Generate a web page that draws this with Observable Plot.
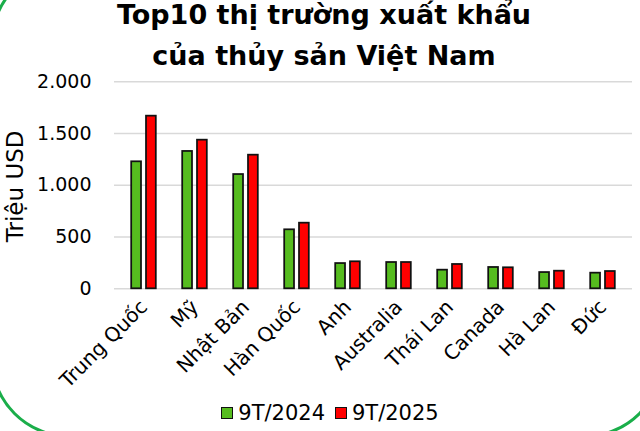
<!DOCTYPE html>
<html>
<head>
<meta charset="utf-8">
<script src="https://cdn.jsdelivr.net/npm/d3@7"></script>
<script src="https://cdn.jsdelivr.net/npm/@observablehq/plot@0.6"></script>
<style>
  html, body { margin: 0; padding: 0; background: #fff; }
  #wrap { position: relative; width: 640px; height: 431px; overflow: hidden; background: #fff; }
  #frame { position: absolute; left: -10px; top: -36px; width: 674px; height: 474px; box-sizing: border-box;
           border: 3px solid #1aae4a; border-radius: 80px; }
  #title { position: absolute; left: 0; top: -6px; width: 648px; text-align: center;
           font-family: "DejaVu Sans", sans-serif; font-weight: bold; font-size: 27px; line-height: 41px; color: #000; }
  #chart { position: absolute; left: 0; top: 70px; }
  #legend { position: absolute; left: 0; top: 400px; width: 660px; height: 26px; display: flex; justify-content: center;
            align-items: center; gap: 10px; font-family: "DejaVu Sans", sans-serif; font-size: 21px; color: #000; }
  .item { display: flex; align-items: center; gap: 5px; }
  .sw { width: 10px; height: 10px; border: 1.5px solid #111; }
</style>
</head>
<body>
<div id="wrap">
  <div id="frame"></div>
  <div id="title">Top10 thị trường xuất khẩu<br>của thủy sản Việt Nam</div>
  <div id="chart"></div>
  <div id="legend"></div>
</div>
<script>
const countries = ["Trung Quốc", "Mỹ", "Nhật Bản", "Hàn Quốc", "Anh", "Australia", "Thái Lan", "Canada", "Hà Lan", "Đức"];
const values2024 = [1227, 1327, 1104, 570, 244, 254, 180, 206, 157, 151];
const values2025 = [1668, 1436, 1291, 634, 261, 254, 235, 203, 170, 167];
const seriesNames = ["9T/2024", "9T/2025"];
const seriesColors = ["#56bc1f", "#ff0000"];
const yTicks = [0, 500, 1000, 1500, 2000];
const yLabel = "Triệu USD";

const d2024 = countries.map((c, i) => ({country: c, value: values2024[i]}));
const d2025 = countries.map((c, i) => ({country: c, value: values2025[i]}));

const fmt = d => d3.format(",")(d).replace(/,/g, ".");
const font = "DejaVu Sans, sans-serif";

const chart = Plot.plot({
  width: 640,
  height: 330,
  marginTop: 11.3,
  marginBottom: 111.7,
  marginLeft: 114,
  marginRight: 8,
  style: {fontFamily: font, background: "transparent", overflow: "visible"},
  x: {domain: countries, padding: 0},
  y: {domain: [0, 2000]},
  marks: [
    Plot.gridY(yTicks, {stroke: "#d9d9d9", strokeOpacity: 1, strokeWidth: 1.6}),
    Plot.barY(d2024, {x: "country", y: "value", fill: seriesColors[0], stroke: "#111", strokeWidth: 1.75,
      insetLeft: 13.2, insetRight: 28}),
    Plot.barY(d2025, {x: "country", y: "value", fill: seriesColors[1], stroke: "#111", strokeWidth: 1.75,
      insetLeft: 28, insetRight: 13.2}),
    Plot.axisX({tickSize: 0, tickPadding: 15, tickRotate: -45, label: null, fontSize: 20, fill: "#000"}),
    Plot.axisY({ticks: yTicks, tickFormat: fmt, tickSize: 0, tickPadding: 23, fontSize: 19, fill: "#000", label: null}),
    Plot.text([yLabel], {frameAnchor: "left", textAnchor: "middle", lineAnchor: "middle", rotate: -90,
      dx: -99, dy: 1, fontSize: 23, fill: "#000"})
  ]
});
document.getElementById("chart").appendChild(chart);

const legend = document.getElementById("legend");
seriesNames.forEach((name, i) => {
  const item = document.createElement("div");
  item.className = "item";
  const sw = document.createElement("div");
  sw.className = "sw";
  sw.style.background = seriesColors[i];
  const t = document.createElement("span");
  t.textContent = name;
  item.appendChild(sw);
  item.appendChild(t);
  legend.appendChild(item);
});
</script>
</body>
</html>
